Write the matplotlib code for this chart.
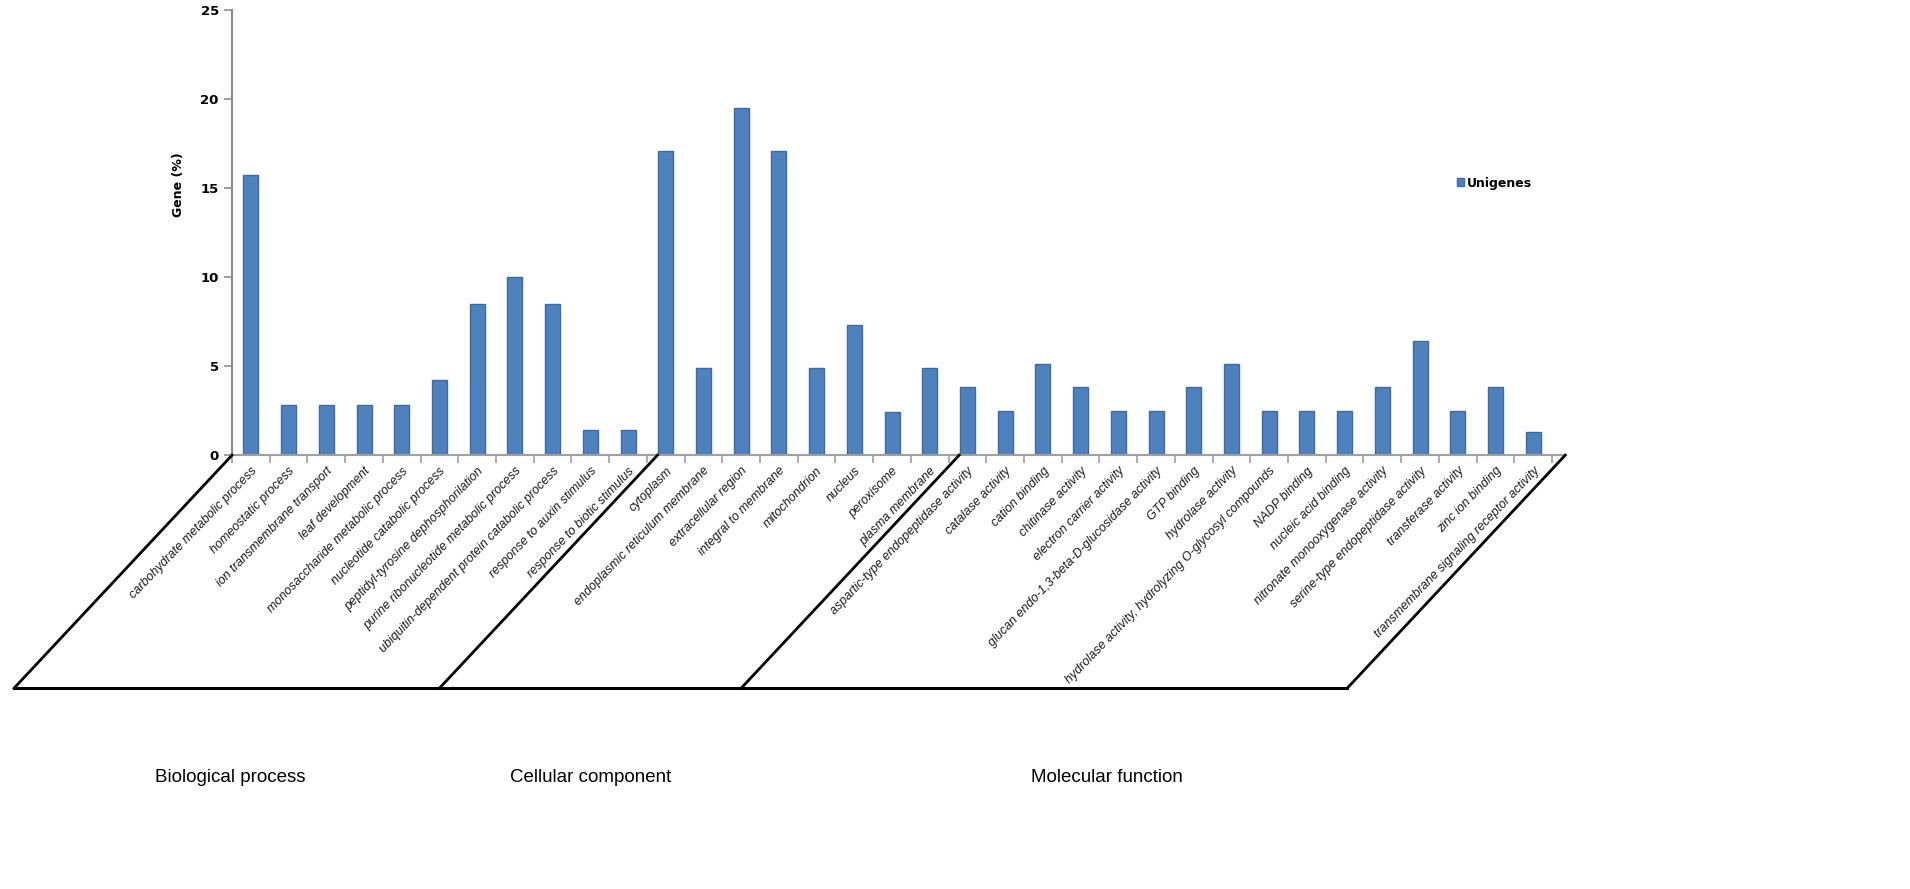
import matplotlib.pyplot as plt
import numpy as np

# GO categories and percentage of unigenes
bp_terms = ["carbohydrate metabolic process", "homeostatic process", "ion transmembrane transport",
            "leaf development", "monosaccharide metabolic process", "nucleotide catabolic process",
            "peptidyl-tyrosine dephosphorilation", "purine ribonucleotide metabolic process",
            "ubiquitin-dependent protein catabolic process", "response to auxin stimulus",
            "response to biotic stimulus"]
bp_values = [15.7, 2.8, 2.8, 2.8, 2.8, 4.2, 8.5, 10.0, 8.5, 1.4, 1.4]

cc_terms = ["cytoplasm", "endoplasmic reticulum membrane", "extracellular region",
            "integral to membrane", "mitochondrion", "nucleus", "peroxisome", "plasma membrane"]
cc_values = [17.1, 4.9, 19.5, 17.1, 4.9, 7.3, 2.4, 4.9]

mf_terms = ["aspartic-type endopeptidase activity", "catalase activity", "cation binding",
            "chitinase activity", "electron carrier activity",
            "glucan endo-1,3-beta-D-glucosidase activity", "GTP binding", "hydrolase activity",
            "hydrolase activity, hydrolyzing O-glycosyl compounds", "NADP binding",
            "nucleic acid binding", "nitronate monooxygenase activity",
            "serine-type endopeptidase activity", "transferase activity", "zinc ion binding",
            "transmembrane signaling receptor activity"]
mf_values = [3.8, 2.5, 5.1, 3.8, 2.5, 2.5, 3.8, 5.1, 2.5, 2.5, 2.5, 3.8, 6.4, 2.5, 3.8, 1.3]

group_names = ["Biological process", "Cellular component", "Molecular function"]

terms = bp_terms + cc_terms + mf_terms
values = bp_values + cc_values + mf_values
sizes = [len(bp_terms), len(cc_terms), len(mf_terms)]

fig = plt.figure(figsize=(19.1, 8.89), dpi=100)
ax = fig.add_axes([0.1215, 0.488, 0.698, 0.501])

x = np.arange(len(terms))
ax.bar(x, values, width=0.4, color='#4f81bd', edgecolor='#3c6aa6', linewidth=1,
       label='Unigenes')

xmax = len(terms) - 0.15
ax.set_xlim(-0.5, xmax)
ax.set_ylim(0, 25)
ax.set_yticks([0, 5, 10, 15, 20, 25])
for s in ['top', 'right']:
    ax.spines[s].set_visible(False)
ax.spines['left'].set_color('#8c8c8c')
ax.spines['bottom'].set_color('#a0a0a0')
ax.spines['left'].set_linewidth(1.5)
ax.spines['bottom'].set_linewidth(1.5)
ax.tick_params(axis='y', colors='#8c8c8c', length=6, width=1.2, labelcolor='black',
               labelsize=9.5)
for t in ax.get_yticklabels():
    t.set_fontweight('bold')
ax.set_xticks(np.arange(len(terms) + 1) - 0.5)
ax.set_xticklabels([])
ax.tick_params(axis='x', colors='#a0a0a0', length=6, width=1.2)
ax.set_ylabel('Gene (%)', fontsize=9, fontweight='bold')
ax.yaxis.set_label_coords(-0.035, 0.607)

# category labels, slanted along the group lines
angle = 46
for i, t in enumerate(terms):
    ax.annotate(t, xy=(i, 0), xytext=(3, -10), textcoords='offset points',
                rotation=angle, rotation_mode='anchor', ha='right', va='center',
                fontsize=9, style='italic', family='Liberation Sans', color='#1a1a1a')

leg = ax.legend(loc='center left', bbox_to_anchor=(0.91, 0.611), frameon=False,
                handlelength=0.6, handleheight=0.6, handletextpad=0.25, fontsize=9)
for t in leg.get_texts():
    t.set_fontweight('bold')

# group separator lines (inner ones start at the first bar of the next group)
dx, dy = -218, -233
starts = [-0.5]
for b in np.cumsum(sizes)[:-1]:
    starts.append(b - 0.22)
starts.append(xmax)
inv = fig.transFigure.inverted()
ends = []
for b in starts:
    p0 = ax.transData.transform((b, 0))
    p1 = p0 + np.array([dx, dy])
    f0, f1 = inv.transform(p0), inv.transform(p1)
    fig.add_artist(plt.Line2D([f0[0], f1[0]], [f0[1], f1[1]], color='black', lw=2))
    ends.append(f1)
fig.add_artist(plt.Line2D([ends[0][0], ends[-1][0]], [ends[0][1], ends[-1][1]],
                          color='black', lw=2.2))

# group names under the bottom line
shifts = [0.002, 0.0, 0.033]
for k, name in enumerate(group_names):
    xm = (ends[k][0] + ends[k + 1][0]) / 2 + shifts[k]
    fig.text(xm, ends[0][1] - 0.1, name, ha='center', va='center', fontsize=13.5,
             family=['Liberation Sans Narrow', 'Liberation Sans'])

fig.savefig('out.png', dpi=100)
